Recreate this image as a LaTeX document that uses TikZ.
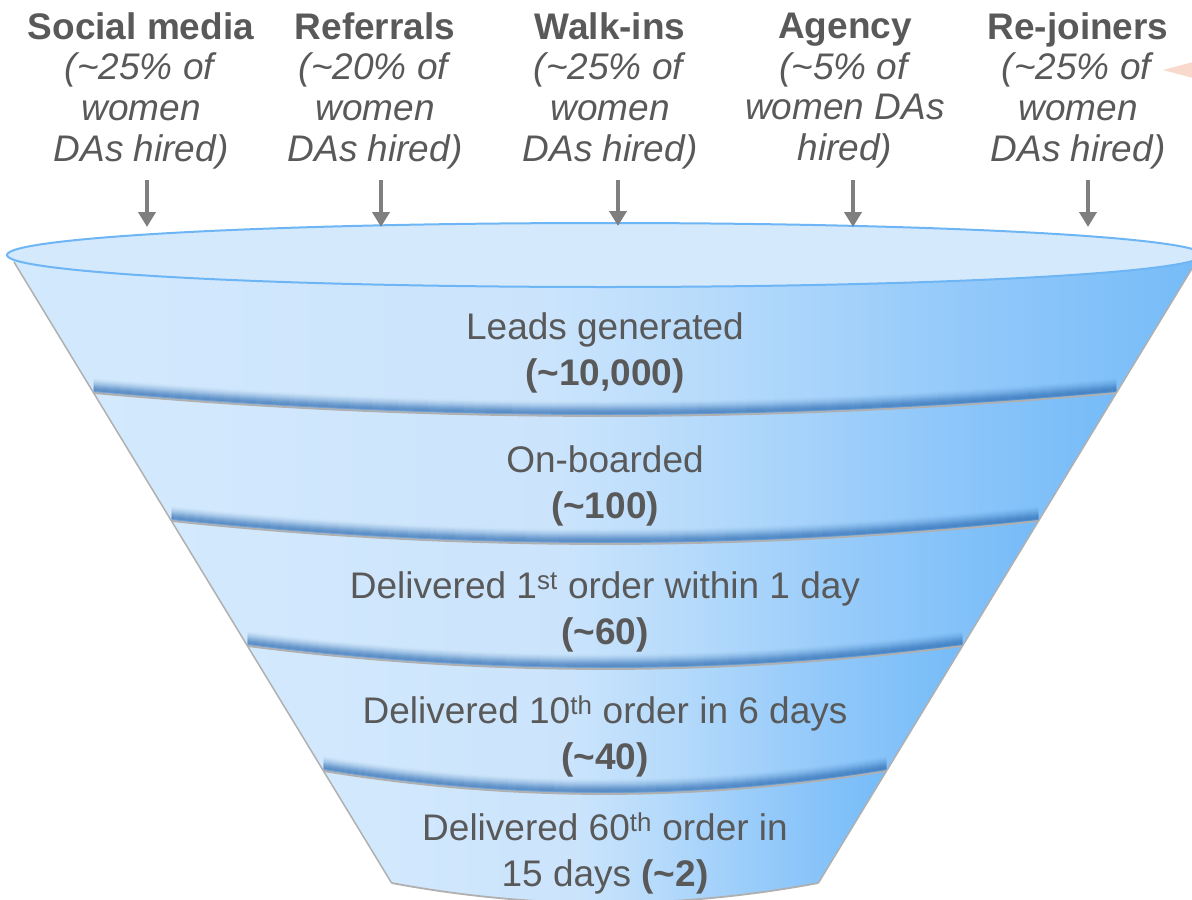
\documentclass[tikz,border=0pt]{standalone}
\usepackage{fontspec}
\setmainfont{Liberation Sans}
\usetikzlibrary{arrows.meta}

\definecolor{txtgray}{HTML}{595959}
\definecolor{arrowgray}{HTML}{7F7F7F}
\definecolor{rimgray}{HTML}{B0B0B0}
\definecolor{fA}{HTML}{D3E9FD}
\definecolor{fB}{HTML}{CBE4FC}
\definecolor{fC}{HTML}{B5DAFB}
\definecolor{fD}{HTML}{93C9FA}
\definecolor{fE}{HTML}{75BBF8}
\definecolor{topfill}{HTML}{D5E9FC}
\definecolor{topline}{HTML}{6DB5F5}
\definecolor{shadowblue}{HTML}{2F6DB3}
\definecolor{salmon}{HTML}{F9D9CC}

\pgfdeclarehorizontalshading{funnelshade}{100bp}{color(0bp)=(fA); color(25bp)=(fA); color(47.5bp)=(fB); color(55bp)=(fC); color(65bp)=(fD); color(75bp)=(fE); color(100bp)=(fE)}

% sagging rim of a funnel slice (left x, right x, y at the ends, sag),
% continuing the current path from one end to the other
\newcommand\rimR[4]{.. controls ({#1+(#2-#1)/3},{#3+4*#4/3}) and ({#2-(#2-#1)/3},{#3+4*#4/3}) .. (#2,#3)}
\newcommand\rimL[4]{.. controls ({#2-(#2-#1)/3},{#3+4*#4/3}) and ({#1+(#2-#1)/3},{#3+4*#4/3}) .. (#1,#3)}

\tikzset{
  head/.style={text=txtgray, align=center, inner sep=0pt, font=\fontsize{37}{40.7}\selectfont},
  stage/.style={text=txtgray, align=center, inner sep=0pt, font=\fontsize{37}{46}\selectfont},
  feed/.style={draw=arrowgray, line width=4.5pt, -{Triangle[width=17pt,length=15pt]}},
  rim/.style={draw=rimgray, line width=1.8pt},
  slice/.style={shading=funnelshade},
  glow/.style={draw=shadowblue, line width=3pt, line cap=butt}
}

\begin{document}
\begin{tikzpicture}[x=1pt,y=-1pt]
\useasboundingbox (0,0) rectangle (1192,900);
\clip (0,0) rectangle (1192,900);

% pointer at the right edge
\fill[salmon] (1163,70) -- (1260,44) -- (1260,96) -- cycle;

% funnel slices
\shade[slice] (7,255) -- (1203,255) -- (1196,262) -- (1116.4,393) \rimL{93.6}{1116.4}{393}{23} -- (14,262) -- cycle;
\shade[slice] (93.6,393) \rimR{93.6}{1116.4}{393}{23} -- (1038.5,521) \rimL{171.5}{1038.5}{521}{23} -- cycle;
\shade[slice] (171.5,521) \rimR{171.5}{1038.5}{521}{23} -- (962.5,646) \rimL{247.5}{962.5}{646}{23} -- cycle;
\shade[slice] (247.5,646) \rimR{247.5}{962.5}{646}{23} -- (886.5,771) \rimL{323.5}{886.5}{771}{23} -- cycle;
\shade[slice] (323.5,771) \rimR{323.5}{886.5}{771}{23} -- (818.4,883) \rimL{391.6}{818.4}{883}{20} -- cycle;

% soft shadows above each rim
\begin{scope}
  \clip (7,255) -- (1203,255) -- (1196,262) -- (818.4,883) \rimL{391.6}{818.4}{883}{20} -- (14,262) -- cycle;
  \foreach \k/\op in {1.5/0.34,2.5/0.34,3.5/0.32,4.5/0.29,5.5/0.25,6.5/0.21,7.5/0.17,8.5/0.13,9.5/0.1,10.5/0.07,11.5/0.05,12.5/0.03,13.5/0.015}{
    \draw[glow, opacity=\op, yshift=\k pt] (93.6,393) \rimR{93.6}{1116.4}{393}{23};
    \draw[glow, opacity=\op, yshift=\k pt] (171.5,521) \rimR{171.5}{1038.5}{521}{23};
    \draw[glow, opacity=\op, yshift=\k pt] (247.5,646) \rimR{247.5}{962.5}{646}{23};
    \draw[glow, opacity=\op, yshift=\k pt] (323.5,771) \rimR{323.5}{886.5}{771}{23};
  }
\end{scope}

% rims and sides
\draw[rim] (93.6,393) \rimR{93.6}{1116.4}{393}{23};
\draw[rim] (171.5,521) \rimR{171.5}{1038.5}{521}{23};
\draw[rim] (247.5,646) \rimR{247.5}{962.5}{646}{23};
\draw[rim] (323.5,771) \rimR{323.5}{886.5}{771}{23};
\draw[rim] (391.6,883) \rimR{391.6}{818.4}{883}{20};
\draw[rimgray, line width=1.5pt] (14,262) -- (391.6,883);
\draw[rimgray, line width=1.5pt] (1196,262) -- (818.4,883);

% mouth of the funnel
\filldraw[fill=topfill, draw=topline, line width=2pt] (605,255) ellipse [x radius=598, y radius=32];

% stage labels
\node[stage] (s1) at (605,353) {Leads generated\\\textbf{(\textasciitilde10,000)}};
\node[stage] (s2) at (605,486) {On-boarded\\\textbf{(\textasciitilde100)}};
\node[stage] (s3) at (605,612) {Delivered 1\textsuperscript{st} order within 1 day\\\textbf{(\textasciitilde60)}};
\node[stage] (s4) at (605,736) {Delivered 10\textsuperscript{th} order in 6 days\\\textbf{(\textasciitilde40)}};
\node[stage] (s5) at (605,853) {Delivered 60\textsuperscript{th} order in\\15 days \textbf{(\textasciitilde2)}};

% sources
\node[head] (h1) at (141,90.5) {\textbf{Social media}\\\textit{(\textasciitilde25\% of}\\\textit{women}\\\textit{DAs hired)}};
\node[head] (h2) at (375,90.5) {\textbf{Referrals}\\\textit{(\textasciitilde20\% of}\\\textit{women}\\\textit{DAs hired)}};
\node[head] (h3) at (610,90.5) {\textbf{Walk-ins}\\\textit{(\textasciitilde25\% of}\\\textit{women}\\\textit{DAs hired)}};
\node[head] (h4) at (845,90.5) {\textbf{Agency}\\\textit{(\textasciitilde5\% of}\\\textit{women DAs}\\\textit{hired)}};
\node[head] (h5) at (1078,90.5) {\textbf{Re-joiners}\\\textit{(\textasciitilde25\% of}\\\textit{women}\\\textit{DAs hired)}};

% feed arrows into the mouth
\coordinate (a1s) at (147,180); \coordinate (a1e) at (147,227);
\coordinate (a2s) at (381,180); \coordinate (a2e) at (381,227);
\coordinate (a3s) at (618,180); \coordinate (a3e) at (618,226);
\coordinate (a4s) at (853,180); \coordinate (a4e) at (853,227);
\coordinate (a5s) at (1088,180); \coordinate (a5e) at (1088,227);
\draw[feed] (a1s) -- (a1e);
\draw[feed] (a2s) -- (a2e);
\draw[feed] (a3s) -- (a3e);
\draw[feed] (a4s) -- (a4e);
\draw[feed] (a5s) -- (a5e);
\end{tikzpicture}
\end{document}
